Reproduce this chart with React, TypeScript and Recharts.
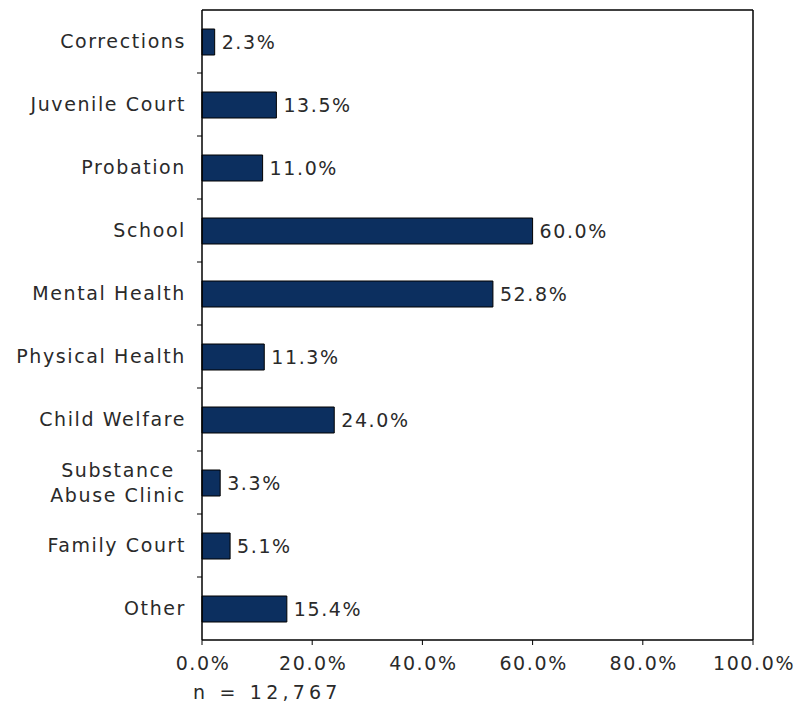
import React from "react";
import {
  BarChart, Bar, XAxis, YAxis, LabelList, CartesianGrid,
} from "recharts";

const categories = [
  "Corrections", "Juvenile Court", "Probation", "School", "Mental Health",
  "Physical Health", "Child Welfare", "Substance\nAbuse Clinic", "Family Court", "Other",
];
const values = [2.3, 13.5, 11.0, 60.0, 52.8, 11.3, 24.0, 3.3, 5.1, 15.4];
const xTicks = [0, 20, 40, 60, 80, 100];
const sampleNote = "n = 12,767";

const data = categories.map((name, i) => ({ name, value: values[i] }));

const FONT = "'DejaVu Sans', Verdana, sans-serif";
const TEXT = "#2a2a2a";
const BAR = "#0c2f5f";
const HALF_BAND = 31.5;
const FS = 19;
const LS = 1.6;

const YTick = ({ x, y, payload, index }: any) => {
  const lines = String(payload.value).split("\n");
  return (
    <g>
      {index > 0 && (
        <line x1={x + 16} x2={x + 11} y1={y - HALF_BAND} y2={y - HALF_BAND} stroke="#000" />
      )}
      {lines.length === 1 ? (
        <text x={x} y={y} dy="0.36em" textAnchor="end" fill={TEXT}
          fontSize={FS} letterSpacing={LS} fontFamily={FONT}>
          {lines[0]}
        </text>
      ) : (
        <text x={x - 68} y={y} textAnchor="middle" fill={TEXT}
          fontSize={FS} letterSpacing={LS} fontFamily={FONT}>
          {lines.map((l, i) => (
            <tspan key={i} x={x - 68} dy={i === 0 ? "-0.3em" : "1.32em"}>{l}</tspan>
          ))}
        </text>
      )}
    </g>
  );
};

const XTick = ({ x, y, payload }: any) => (
  <text x={x + 1} y={y} dy="0.71em" textAnchor="middle" fill={TEXT}
    fontSize={FS} letterSpacing={LS} fontFamily={FONT}>
    {payload.value.toFixed(1)}%
  </text>
);

export default function App() {
  return (
    <div style={{ position: "relative", width: 799, height: 703 }}>
      <BarChart
        width={799}
        height={703}
        data={data}
        layout="vertical"
        margin={{ top: 2, right: 54, left: 0, bottom: 31 }}
        barSize={26}
      >
        <CartesianGrid
          stroke="#000"
          strokeWidth={1.5}
          horizontalCoordinatesGenerator={({ offset }: any) => [offset.top]}
          verticalCoordinatesGenerator={({ offset }: any) => [offset.left + offset.width]}
        />
        <XAxis
          type="number"
          domain={[0, 100]}
          ticks={xTicks}
          interval={0}
          tick={<XTick />}
          tickSize={5}
          tickMargin={12}
          height={40}
          axisLine={{ stroke: "#000", strokeWidth: 1.5 }}
          tickLine={{ stroke: "#000" }}
        />
        <YAxis
          type="category"
          dataKey="name"
          width={194}
          tick={<YTick />}
          tickLine={false}
          tickSize={0}
          tickMargin={16}
          interval={0}
          axisLine={{ stroke: "#000", strokeWidth: 1.5 }}
        />
        <Bar dataKey="value" fill={BAR} stroke="#000" strokeWidth={1} isAnimationActive={false}>
          <LabelList
            dataKey="value"
            position="right"
            offset={7}
            formatter={(v: any) => `${Number(v).toFixed(1)}%`}
            fill={TEXT}
            fontSize={FS}
            letterSpacing={LS}
            fontFamily={FONT}
          />
        </Bar>
      </BarChart>
      <div
        style={{
          position: "absolute", left: 185, top: 673, fontFamily: FONT,
          fontSize: FS, letterSpacing: 4.2, color: TEXT, whiteSpace: "pre",
        }}
      >
        {sampleNote}
      </div>
    </div>
  );
}
